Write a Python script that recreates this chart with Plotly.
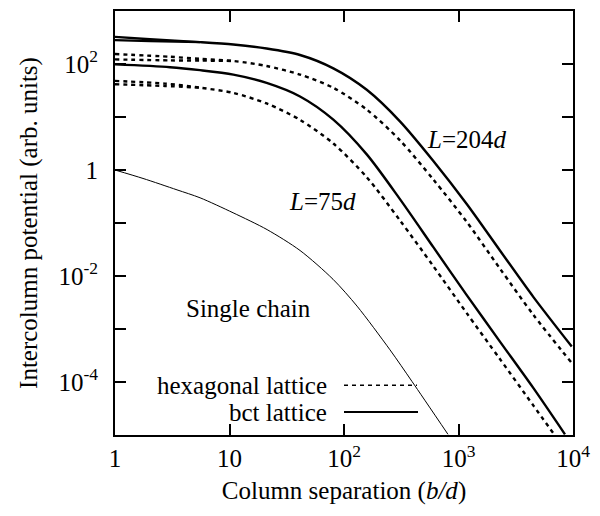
import plotly.graph_objects as go

# ---- data (x = b/d, y = potential, arb. units) ----
bct204_x = [1, 2.02, 5.52, 10.8, 21.1, 41.3, 80.7, 158, 308, 603, 1180, 2301, 4498, 9750]
bct204_y = [325, 294, 259, 233, 196, 148, 82.8, 32.6, 8.28, 1.48, 0.228, 0.0303, 0.00404, 4.67e-4]
bct204b_x = [1, 2.02, 5.52]
bct204b_y = [282, 270, 259]

hex204_x = [1, 3.02, 5.52, 10.8, 21.1, 41.3, 80.7, 158, 308, 603, 1180, 2301, 4498, 9750]
hex204_y = [154, 137, 125, 114, 91.6, 63.1, 35.5, 13.8, 3.63, 0.661, 0.105, 0.0138, 0.00186, 2.29e-4]
hex204b_x = [1, 3.02, 5.52, 10.8]
hex204b_y = [122, 117, 116, 114]

bct75_x = [1, 3.02, 5.52, 10.8, 21.1, 41.3, 80.7, 158, 308, 603, 1180, 2301, 4498, 8511]
bct75_y = [98.3, 87.1, 76.5, 63.0, 44.0, 24.4, 8.91, 1.97, 0.282, 0.035, 0.00435, 5.79e-4, 7.74e-5, 1.03e-5]

hex75_x = [1, 2.73, 5.52, 10.8, 21.1, 41.3, 80.7, 158, 308, 603, 1180, 2301, 4498, 6839]
hex75_y = [48, 42.7, 35.8, 28.5, 18.0, 8.85, 3.16, 0.731, 0.112, 0.0153, 0.00199, 2.71e-4, 3.62e-5, 1.03e-5]
hex75b_x = [1, 2.73, 5.52]
hex75b_y = [41.5, 38.5, 35.8]

single_x = [1, 1.756, 3.48, 5.53, 10.74, 21.3, 41.3, 80.2, 130, 252, 393, 809]
single_y = [1, 0.693, 0.422, 0.299, 0.156, 0.075, 0.0303, 0.00867, 0.0027, 4.05e-4, 1.02e-4, 1.03e-5]

x_tickvals = [1, 10, 100, 1000, 10000]
x_ticktext = ["1", "10", "10<sup>2</sup>", "10<sup>3</sup>", "10<sup>4</sup>"]
y_tickvals = [1e-5, 1e-4, 1e-3, 1e-2, 1e-1, 1, 10, 100, 1000]
y_ticktext = ["", "10<sup>-4</sup>", "", "10<sup>-2</sup>", "", "1", "", "10<sup>2</sup>", ""]

FONT = "Liberation Serif"
W, H = 600, 516
L, R, T, B = 115, 27, 9, 81
PW, PH = W - L - R, H - T - B

def px(xp):
    return (xp - L) / PW

def py(yp):
    return (H - B - yp) / PH

fig = go.Figure()

solid = dict(color="black", width=2.4, shape="spline", smoothing=0.8)
dashed = dict(color="black", width=2.4, dash="4px,4px", shape="spline", smoothing=0.8)

for xs, ys, ln in [
    (bct204_x, bct204_y, solid), (bct204b_x, bct204b_y, solid),
    (hex204_x, hex204_y, dashed), (hex204b_x, hex204b_y, dashed),
    (bct75_x, bct75_y, solid),
    (hex75_x, hex75_y, dashed), (hex75b_x, hex75b_y, dashed),
]:
    fig.add_trace(go.Scatter(x=xs, y=ys, mode="lines", line=ln, showlegend=False, hoverinfo="skip"))

fig.add_trace(go.Scatter(x=single_x, y=single_y, mode="lines",
                         line=dict(color="black", width=1, shape="spline", smoothing=0.8),
                         showlegend=False, hoverinfo="skip"))

axis_common = dict(showline=True, linecolor="black", linewidth=2, mirror="ticks",
                   ticks="inside", ticklen=11, tickwidth=1.5, tickcolor="black",
                   showgrid=False, zeroline=False,
                   tickfont=dict(family=FONT, size=25, color="black"))

fig.update_xaxes(type="log", range=[0, 4], tickmode="array", tickvals=x_tickvals, ticktext=x_ticktext,
                 title=dict(text="Column separation (<i>b/d</i>)", font=dict(family=FONT, size=25, color="black"),
                            standoff=10),
                 **axis_common)
fig.update_yaxes(type="log", range=[-5, 3], tickmode="array", tickvals=y_tickvals, ticktext=y_ticktext,
                 ticklabelstandoff=10,
                 title=dict(text="Intercolumn potential (arb. units)", font=dict(family=FONT, size=25, color="black"),
                            standoff=14),
                 **axis_common)

ann_font = dict(family=FONT, size=25, color="black")
annotations = [
    dict(text="<i>L</i>=204<i>d</i>", x=px(467), y=py(138), xanchor="center", yanchor="middle"),
    dict(text="<i>L</i>=75<i>d</i>", x=px(322), y=py(200), xanchor="center", yanchor="middle"),
    dict(text="Single chain", x=px(248), y=py(308), xanchor="center", yanchor="middle"),
    dict(text="hexagonal lattice", x=px(329), y=py(385), xanchor="right", yanchor="middle"),
    dict(text="bct lattice", x=px(329), y=py(412), xanchor="right", yanchor="middle"),
]
for a in annotations:
    a.update(xref="paper", yref="paper", showarrow=False, font=ann_font)

shapes = [
    dict(type="line", xref="paper", yref="paper", x0=px(344), x1=px(417), y0=py(385), y1=py(385),
         line=dict(color="black", width=1.5, dash="4px,4px")),
    dict(type="line", xref="paper", yref="paper", x0=px(344), x1=px(418), y0=py(412), y1=py(412),
         line=dict(color="black", width=2)),
]

fig.update_layout(width=W, height=H, margin=dict(l=L, r=R, t=T, b=B),
                  paper_bgcolor="white", plot_bgcolor="white",
                  annotations=annotations, shapes=shapes,
                  font=dict(family=FONT, color="black"))

fig.write_html("out.html")
